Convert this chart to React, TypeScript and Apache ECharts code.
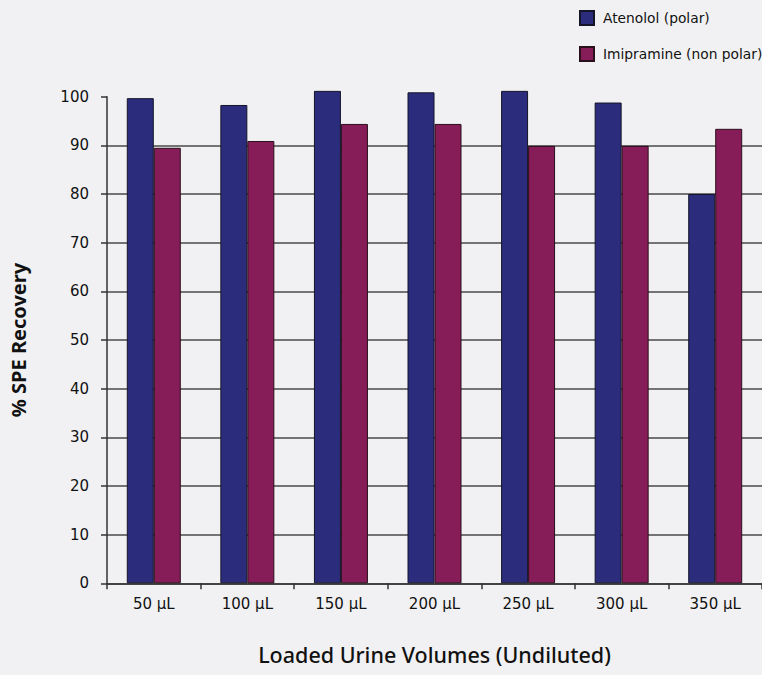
import React, { useEffect, useRef } from "react";
import * as echarts from "echarts";

const categories = ["50 μL", "100 μL", "150 μL", "200 μL", "250 μL", "300 μL", "350 μL"];
const atenolol = [99.7, 98.3, 101.2, 100.9, 101.2, 98.8, 80.0];
const imipramine = [89.5, 90.9, 94.4, 94.4, 89.9, 89.9, 93.4];
const seriesNames = ["Atenolol (polar)", "Imipramine (non polar)"];
const yTicks = [0, 10, 20, 30, 40, 50, 60, 70, 80, 90, 100];

const FONT = "'Noto Sans', 'DejaVu Sans', sans-serif";
const LABEL_FONT = "'DejaVu Sans', sans-serif";

export default function App() {
  const ref = useRef<HTMLDivElement>(null);
  useEffect(() => {
    document.body.style.margin = "0";
    document.body.style.background = "#f1f1f3";
    const chart = echarts.init(ref.current!, undefined, { renderer: "svg" });
    const gridColors = yTicks.map((v) => (v === 100 ? "rgba(0,0,0,0)" : "#4a4a4a"));
    chart.setOption({
      animation: false,
      backgroundColor: "#f1f1f3",
      textStyle: { fontFamily: FONT },
      legend: {
        orient: "vertical",
        left: 574,
        top: 5,
        itemWidth: 14,
        itemHeight: 14,
        itemGap: 20,
        icon: "rect",
        textStyle: { fontSize: 13.8, color: "#111", fontFamily: LABEL_FONT, padding: [0, 0, 0, 4] },
        data: seriesNames,
      },
      grid: { left: 107, right: 0, top: 96.7, bottom: 91.7, containLabel: false },
      xAxis: {
        type: "category",
        data: categories,
        axisLine: { show: true, lineStyle: { color: "#333", width: 1.5 } },
        axisTick: { show: true, length: 6, lineStyle: { color: "#333", width: 1.5 } },
        axisLabel: { fontSize: 15, color: "#111", margin: 13, fontFamily: LABEL_FONT },
        name: "Loaded Urine Volumes (Undiluted)",
        nameLocation: "middle",
        nameGap: 60,
        nameTextStyle: { fontSize: 21.5, fontWeight: 500, color: "#111", fontFamily: FONT },
      },
      yAxis: {
        type: "value",
        min: 0,
        max: 100,
        interval: 10,
        axisLine: { show: true, lineStyle: { color: "#333", width: 1.5 } },
        axisTick: { show: true, length: 6, lineStyle: { color: "#333", width: 1.5 } },
        axisLabel: { fontSize: 15, color: "#111", margin: 18, fontFamily: LABEL_FONT },
        splitLine: { show: true, lineStyle: { color: gridColors, width: 1.5 } },
        name: "% SPE Recovery",
        nameLocation: "middle",
        nameGap: 79,
        nameTextStyle: { fontSize: 20, fontWeight: "bold", color: "#111", fontFamily: FONT },
      },
      series: [
        {
          name: seriesNames[0],
          type: "bar",
          data: atenolol,
          barWidth: 27,
          barGap: "0%",
          clip: false,
          itemStyle: { color: "#2b2c7c", borderColor: "#15152a", borderWidth: 1 },
        },
        {
          name: seriesNames[1],
          type: "bar",
          data: imipramine,
          barWidth: 27,
          barGap: "0%",
          clip: false,
          itemStyle: { color: "#861d58", borderColor: "#2a0f1c", borderWidth: 1 },
        },
      ],
    });
    return () => chart.dispose();
  }, []);
  return (
    <div
      ref={ref}
      style={{ position: "fixed", left: 0, top: 0, width: 762, height: 675 }}
    />
  );
}
